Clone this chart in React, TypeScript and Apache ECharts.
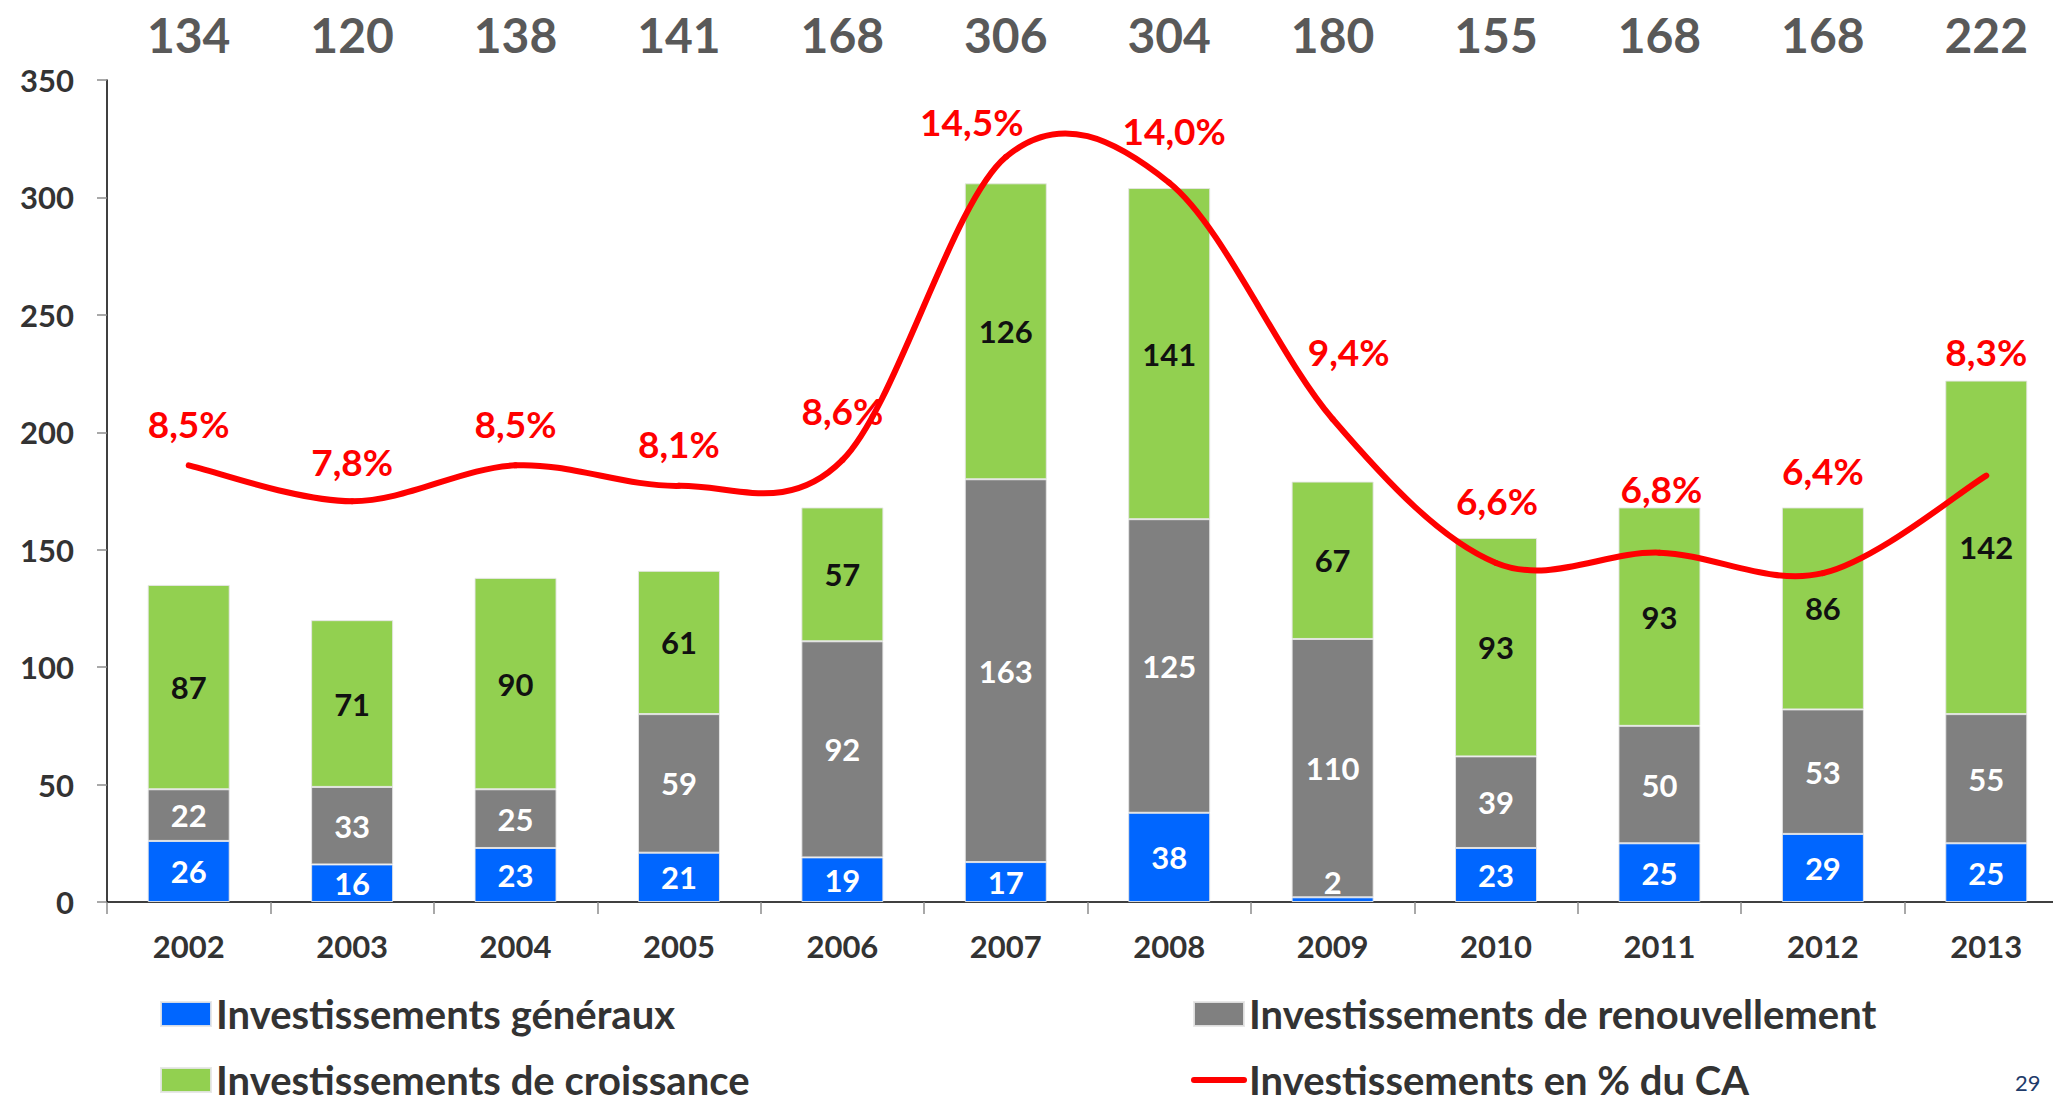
import React, { useEffect, useRef } from "react";
import * as echarts from "echarts";

const years = ["2002", "2003", "2004", "2005", "2006", "2007", "2008", "2009", "2010", "2011", "2012", "2013"];
const totals = ["134", "120", "138", "141", "168", "306", "304", "180", "155", "168", "168", "222"];
const general = [26, 16, 23, 21, 19, 17, 38, 2, 23, 25, 29, 25];
const renewal = [22, 33, 25, 59, 92, 163, 125, 110, 39, 50, 53, 55];
const growth = [87, 71, 90, 61, 57, 126, 141, 67, 93, 93, 86, 142];
const pctOfRevenue = [8.5, 7.8, 8.5, 8.1, 8.6, 14.5, 14.0, 9.4, 6.6, 6.8, 6.4, 8.3];
const yTicks = { min: 0, max: 350, interval: 50 };

// label placement (offsets in px from the line point)
const pctLabelOffsets = [
  [0, -42], [0, -40], [0, -42], [0, -42], [0, -50], [-34, -36],
  [5, -52], [16, -68], [1, -62], [2, -64], [0, -103], [0, -124],
];

const NAMES = {
  general: "Investissements généraux",
  renewal: "Investissements de renouvellement",
  growth: "Investissements de croissance",
  pct: "Investissements en % du CA",
};

const FONT = "Lato";
const RED = "#ff0000";

export default function App() {
  const ref = useRef<HTMLDivElement>(null);
  useEffect(() => {
    document.body.style.margin = "0";
    const chart = echarts.init(ref.current!, null, { renderer: "svg" });
    const barLabel = (color: string) => ({
      show: true,
      position: "inside",
      color,
      fontFamily: FONT,
      fontWeight: "bold",
      fontSize: 31,
    });
    const barBorder = { borderColor: "rgba(230,230,230,0.9)", borderWidth: 1 };
    const legendText = { color: "#333333", fontFamily: FONT, fontWeight: "bold", fontSize: 40, lineHeight: 40 };
    const n = pctOfRevenue.length;

    // Smoothed curve (Catmull-Rom style, as in the office chart) drawn through the library's coord system
    const renderCurve = (params: any, api: any) => {
      const i = params.dataIndexInside;
      if (i >= n - 1) return null;
      const pt = (k: number) => {
        const kk = Math.max(0, Math.min(n - 1, k));
        return api.coord([api.value(0, kk), api.value(1, kk)]);
      };
      const p0 = pt(i - 1);
      const p1 = pt(i);
      const p2 = pt(i + 1);
      const p3 = pt(i + 2);
      const t = 1 / 6;
      return {
        type: "bezierCurve",
        shape: {
          x1: p1[0],
          y1: p1[1],
          cpx1: p1[0] + (p2[0] - p0[0]) * t,
          cpy1: p1[1] + (p2[1] - p0[1]) * t,
          cpx2: p2[0] - (p3[0] - p1[0]) * t,
          cpy2: p2[1] - (p3[1] - p1[1]) * t,
          x2: p2[0],
          y2: p2[1],
        },
        style: { stroke: RED, lineWidth: 6, fill: null, lineCap: "round" },
      };
    };

    chart.setOption({
      animation: false,
      backgroundColor: "#ffffff",
      textStyle: { fontFamily: FONT },
      grid: { left: 107, top: 80, width: 1961, height: 822, outerBoundsMode: "none" },
      xAxis: [
        {
          type: "category",
          data: years,
          position: "bottom",
          axisLine: { show: true, lineStyle: { color: "#000000", width: 1.5 } },
          axisTick: { show: true, length: 12, lineStyle: { color: "#8c8c8c", width: 1.5 } },
          axisLabel: { color: "#333333", fontFamily: FONT, fontWeight: "bold", fontSize: 31, margin: 28 },
          splitLine: { show: false },
        },
        {
          type: "category",
          data: totals,
          position: "top",
          axisLine: { show: false },
          axisTick: { show: false },
          axisLabel: { color: "#595959", fontFamily: FONT, fontWeight: "bold", fontSize: 48, margin: 22 },
          splitLine: { show: false },
        },
      ],
      yAxis: [
        {
          type: "value",
          min: yTicks.min,
          max: yTicks.max,
          interval: yTicks.interval,
          axisLine: { show: true, lineStyle: { color: "#000000", width: 1.5 } },
          axisTick: { show: true, length: 10, lineStyle: { color: "#8c8c8c", width: 1.5 } },
          axisLabel: { color: "#333333", fontFamily: FONT, fontWeight: "bold", fontSize: 31, margin: 33 },
          splitLine: { show: false },
        },
        { type: "value", min: 0, max: 16, show: false, splitLine: { show: false } },
      ],
      legend: [
        {
          left: 160,
          top: 994,
          height: 130,
          padding: 0,
          orient: "vertical",
          itemWidth: 50,
          itemHeight: 24,
          itemGap: 26,
          icon: "rect",
          textStyle: legendText,
          data: [NAMES.general, NAMES.growth],
        },
        {
          left: 1191,
          top: 994,
          height: 130,
          padding: 0,
          orient: "vertical",
          itemWidth: 50,
          itemHeight: 24,
          itemGap: 26,
          textStyle: legendText,
          data: [
            { name: NAMES.renewal, icon: "rect" },
            {
              name: NAMES.pct,
              itemStyle: { opacity: 0 },
              lineStyle: { color: RED, width: 6, opacity: 1, cap: "round" },
            },
          ],
        },
      ],
      series: [
        {
          name: NAMES.general,
          type: "bar",
          stack: "inv",
          barWidth: 82,
          data: general.map((v) => (v < 5 ? { value: v, label: { position: "top", distance: 0 } } : v)),
          itemStyle: { color: "#0066ff", ...barBorder },
          label: barLabel("#ffffff"),
        },
        {
          name: NAMES.renewal,
          type: "bar",
          stack: "inv",
          barWidth: 82,
          data: renewal,
          itemStyle: { color: "#808080", ...barBorder },
          label: barLabel("#ffffff"),
        },
        {
          name: NAMES.growth,
          type: "bar",
          stack: "inv",
          barWidth: 82,
          data: growth,
          itemStyle: { color: "#92d050", ...barBorder },
          label: barLabel("#111111"),
        },
        {
          name: NAMES.pct,
          type: "line",
          yAxisIndex: 1,
          symbol: "circle",
          symbolSize: 1,
          showSymbol: true,
          z: 6,
          lineStyle: { color: RED, width: 6, opacity: 0 },
          itemStyle: { color: RED },
          data: pctOfRevenue.map((v, i) => ({
            value: v,
            label: { offset: pctLabelOffsets[i] },
          })),
          label: {
            show: true,
            position: "inside",
            color: RED,
            fontFamily: FONT,
            fontWeight: "bold",
            fontSize: 37,
            formatter: (p: any) => (p.value as number).toFixed(1).replace(".", ",") + "%",
          },
        },
        {
          name: "curve",
          type: "custom",
          yAxisIndex: 1,
          z: 5,
          silent: true,
          renderItem: renderCurve,
          encode: { x: 0, y: 1 },
          data: pctOfRevenue.map((v, i) => [i, v]),
        },
      ],
      graphic: [
        {
          type: "text",
          left: 2015,
          top: 1071,
          style: { text: "29", fill: "#1f3b6a", font: `22px ${FONT}` },
        },
      ],
    });
    return () => chart.dispose();
  }, []);
  return <div ref={ref} style={{ width: 2053, height: 1099 }} />;
}
